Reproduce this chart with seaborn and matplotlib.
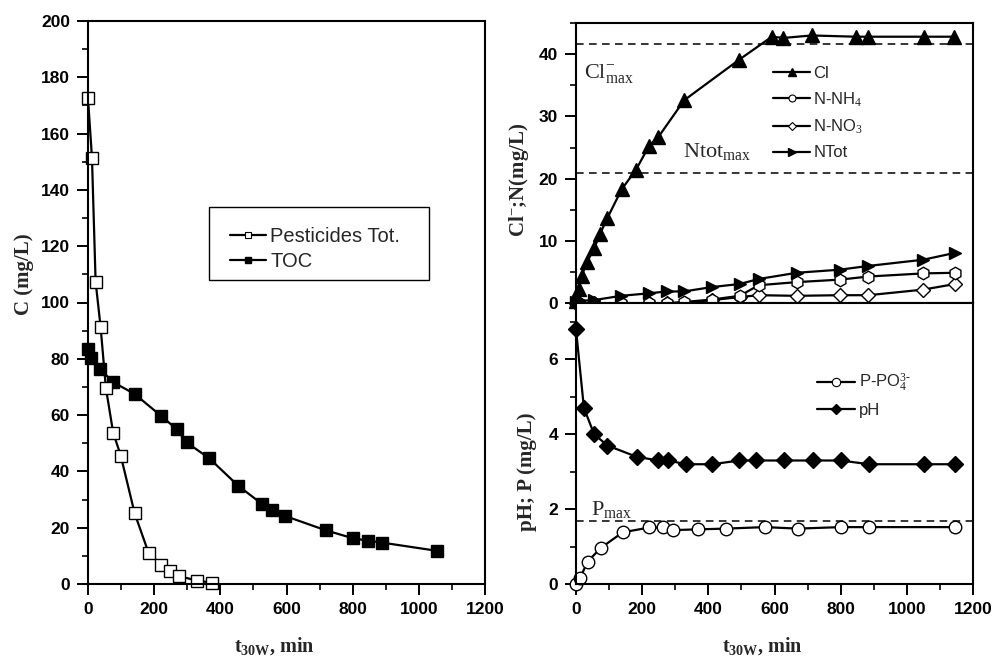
import numpy as np
import pandas as pd
import matplotlib
matplotlib.use("Agg")
import matplotlib.pyplot as plt
from matplotlib.lines import Line2D
from matplotlib.patches import Rectangle
from matplotlib.ticker import MultipleLocator
import seaborn as sns

# ---- data -------------------------------------------------------------
t_pest = [0, 12, 23, 38, 54, 76, 99, 141, 183, 222, 248, 276, 329, 374]
pesticides = [172.5, 151.4, 107.4, 91.4, 69.7, 53.8, 45.6, 25.1, 11.1, 6.7, 4.7, 2.8, 1.2, 0.5]

t_toc = [0, 10, 36, 76, 141, 222, 268, 298, 367, 454, 525, 557, 595, 718, 802, 847, 889, 1054]
toc = [83.4, 80.2, 76.4, 71.7, 67.5, 59.6, 55.0, 50.3, 44.6, 34.9, 28.5, 26.4, 24.2, 19.1, 16.2, 15.4, 14.7, 11.8]

t_cl = [0, 8, 17, 34, 55, 73, 95, 138, 181, 221, 249, 327, 493, 592, 627, 712, 845, 884, 1052, 1143]
chloride = [0.3, 2.3, 4.4, 6.7, 8.8, 11.2, 13.7, 18.3, 21.4, 25.3, 26.7, 32.6, 39.1, 42.8, 42.6, 43.0, 42.8, 42.8, 42.8, 42.8]

t_n = [0, 10, 53, 136, 220, 274, 326, 410, 495, 552, 667, 798, 884, 1050, 1146]
n_tot = [0.2, 0.4, 0.5, 1.2, 1.6, 1.9, 1.9, 2.6, 3.1, 3.9, 4.9, 5.4, 6.0, 7.0, 8.1]
n_nh4 = [0.0, 0.0, 0.0, 0.0, 0.0, 0.0, 0.2, 0.6, 1.2, 2.9, 3.4, 3.8, 4.3, 4.8, 4.9]
n_no3 = [0.0, 0.0, 0.0, 0.0, 0.0, 0.0, 0.1, 0.5, 1.0, 1.3, 1.2, 1.3, 1.3, 2.2, 3.1]

t_ph = [0, 24, 55, 95, 183, 249, 279, 332, 412, 494, 544, 629, 717, 800, 886, 1052, 1147]
ph = [6.8, 4.7, 4.0, 3.7, 3.4, 3.3, 3.3, 3.2, 3.2, 3.3, 3.3, 3.3, 3.3, 3.3, 3.2, 3.2, 3.2]

t_p = [0, 12, 35, 76, 141, 222, 264, 294, 368, 453, 571, 670, 800, 886, 1147]
p_po4 = [0.0, 0.15, 0.6, 0.97, 1.38, 1.51, 1.51, 1.44, 1.46, 1.48, 1.52, 1.48, 1.52, 1.52, 1.52]

cl_max = 41.7
ntot_max = 20.9
p_max = 1.69

# ---- style ------------------------------------------------------------
sns.set_theme(style="ticks")
plt.rcParams["font.family"] = ["Liberation Sans", "DejaVu Sans"]
plt.rcParams["mathtext.fontset"] = "custom"
plt.rcParams["mathtext.rm"] = "Liberation Serif"
plt.rcParams["mathtext.it"] = "Liberation Serif:italic"
plt.rcParams["mathtext.bf"] = "Liberation Serif:bold"
plt.rcParams["axes.edgecolor"] = "black"
plt.rcParams["axes.linewidth"] = 1.5

SERIF = ["Liberation Serif", "DejaVu Serif"]
TICK_FS = 12.5
LBL_FS = 15
XLBL_FS = 14.5

fig = plt.figure(figsize=(9.94, 6.58), dpi=100)
ax_c = fig.add_axes([88 / 994, 74 / 658, 397 / 994, 563 / 658])
ax_n = fig.add_axes([576 / 994, 354.7 / 658, 397 / 994, 280.3 / 658])
ax_p = fig.add_axes([576 / 994, 74 / 658, 397 / 994, 280.7 / 658])


def series(ax, x, y, marker, face, size, ew=1.0):
    df = pd.DataFrame({"t": x, "v": y})
    sns.lineplot(data=df, x="t", y="v", ax=ax, color="black", linewidth=1.6,
                 marker=marker, markersize=size, markerfacecolor=face,
                 markeredgecolor="black", markeredgewidth=ew,
                 errorbar=None, clip_on=False, legend=False)


def style_axis(ax, xmaj, xmin, ymaj, ymin):
    ax.xaxis.set_major_locator(MultipleLocator(xmaj))
    ax.xaxis.set_minor_locator(MultipleLocator(xmin))
    ax.yaxis.set_major_locator(MultipleLocator(ymaj))
    ax.yaxis.set_minor_locator(MultipleLocator(ymin))
    ax.tick_params(which="major", direction="out", length=8, width=1.4,
                   labelsize=TICK_FS, colors="black", pad=5)
    ax.tick_params(which="minor", direction="out", length=4.5, width=1.2,
                   colors="black")
    for lab in ax.get_xticklabels() + ax.get_yticklabels():
        lab.set_fontweight("bold")
    for s in ax.spines.values():
        s.set_visible(True)
        s.set_linewidth(1.5)
        s.set_color("black")
    ax.set_xlabel("")
    ax.set_ylabel("")


# ---- left panel: concentrations ------------------------------------
series(ax_c, t_toc, toc, "s", "black", 9)
series(ax_c, t_pest, pesticides, "s", "white", 9)
ax_c.set_xlim(0, 1200)
ax_c.set_ylim(0, 200)
style_axis(ax_c, 200, 100, 20, 10)
ax_c.set_xlabel(r"t$_{\mathbf{30W}}$, min", family=SERIF, fontsize=XLBL_FS,
                fontweight="bold")
ax_c.xaxis.set_label_coords(0.47, -0.091)
ax_c.set_ylabel("C (mg/L)", family=SERIF, fontsize=LBL_FS, fontweight="bold")
ax_c.yaxis.set_label_coords(-0.135, 0.55)

# legend box drawn as its own frame
ax_c.add_patch(Rectangle((0.3048, 0.540), 0.554, 0.1296, transform=ax_c.transAxes,
                         facecolor="white", edgecolor="black", lw=1.0, zorder=4))
h_leg = [
    Line2D([], [], color="black", lw=1.6, marker="s", markersize=5,
           markerfacecolor="white", markeredgecolor="black", markeredgewidth=0.8),
    Line2D([], [], color="black", lw=1.6, marker="s", markersize=5,
           markerfacecolor="black", markeredgecolor="black"),
]
leg = ax_c.legend(h_leg, ["Pesticides Tot.", "TOC"], loc="upper left",
                  bbox_to_anchor=(0.357, 0.634), borderaxespad=0,
                  fontsize=14.5, handlelength=1.8, handletextpad=0.2,
                  borderpad=0, labelspacing=0.3, frameon=False)
leg.set_zorder(5)

# ---- right top panel: chloride and nitrogen species ----------------
for yv in (cl_max, ntot_max):
    ax_n.axhline(yv, color="black", lw=1.1, ls=(0, (5, 3.5)), zorder=1)
series(ax_n, t_n, n_no3, "D", "white", 7.5)
series(ax_n, t_n, n_nh4, "h", "white", 9)
series(ax_n, t_n, n_tot, ">", "black", 9)
series(ax_n, t_cl, chloride, "^", "black", 9.5)
ax_n.set_xlim(0, 1200)
ax_n.set_ylim(0, 45)
style_axis(ax_n, 200, 100, 10, 5)
ax_n.tick_params(axis="x", which="both", bottom=False, labelbottom=False)
ax_n.set_ylabel(r"Cl$^{-}$;N(mg/L)", family=SERIF, fontsize=LBL_FS,
                fontweight="bold")
ax_n.yaxis.set_label_coords(-0.113, 0.44)
ax_n.text(0.02, 0.82, r"Cl$^{-}_{\mathrm{max}}$", transform=ax_n.transAxes,
          family=SERIF, fontsize=16, va="center", ha="left")
ax_n.text(0.27, 0.54, r"Ntot$_{\mathrm{max}}$", transform=ax_n.transAxes,
          family=SERIF, fontsize=16, va="center", ha="left")

h_n = [
    Line2D([], [], color="black", lw=1.6, marker="^", markersize=6,
           markerfacecolor="black", markeredgecolor="black"),
    Line2D([], [], color="black", lw=1.6, marker="o", markersize=5,
           markerfacecolor="white", markeredgecolor="black", markeredgewidth=0.8),
    Line2D([], [], color="black", lw=1.6, marker="D", markersize=4.5,
           markerfacecolor="white", markeredgecolor="black", markeredgewidth=0.8),
    Line2D([], [], color="black", lw=1.6, marker=">", markersize=6,
           markerfacecolor="black", markeredgecolor="black"),
]
ax_n.legend(h_n, ["Cl", r"N-NH$_{4}$", r"N-NO$_{3}$", "NTot"],
            loc="upper left", bbox_to_anchor=(0.48, 0.87), borderaxespad=0,
            fontsize=12, handlelength=2.2, handletextpad=0.2,
            labelspacing=0.55, frameon=False)

# ---- right bottom panel: phosphate and pH ---------------------------
ax_p.axhline(p_max, color="black", lw=1.1, ls=(0, (5, 3.5)), zorder=1)
series(ax_p, t_p, p_po4, "o", "white", 9)
series(ax_p, t_ph, ph, "D", "black", 8)
ax_p.set_xlim(0, 1200)
ax_p.set_ylim(0, 7.5)
style_axis(ax_p, 200, 100, 2, 1)
ax_p.set_xlabel(r"t$_{\mathbf{30W}}$, min", family=SERIF, fontsize=XLBL_FS,
                fontweight="bold")
ax_p.xaxis.set_label_coords(0.47, -0.183)
ax_p.set_ylabel("pH; P (mg/L)", family=SERIF, fontsize=LBL_FS, fontweight="bold")
ax_p.yaxis.set_label_coords(-0.097, 0.40)
ax_p.text(0.038, 0.265, r"P$_{\mathrm{max}}$", transform=ax_p.transAxes,
          family=SERIF, fontsize=16, va="center", ha="left")

h_p = [
    Line2D([], [], color="black", lw=1.6, marker="o", markersize=6,
           markerfacecolor="white", markeredgecolor="black", markeredgewidth=0.8),
    Line2D([], [], color="black", lw=1.6, marker="D", markersize=5.5,
           markerfacecolor="black", markeredgecolor="black"),
]
ax_p.legend(h_p, [r"P-PO$_{4}^{3\text{-}}$", "pH"],
            loc="upper left", bbox_to_anchor=(0.59, 0.78), borderaxespad=0,
            fontsize=12, handlelength=2.3, handletextpad=0.2,
            labelspacing=0.55, frameon=False)

fig.savefig("out.png", dpi=100)
